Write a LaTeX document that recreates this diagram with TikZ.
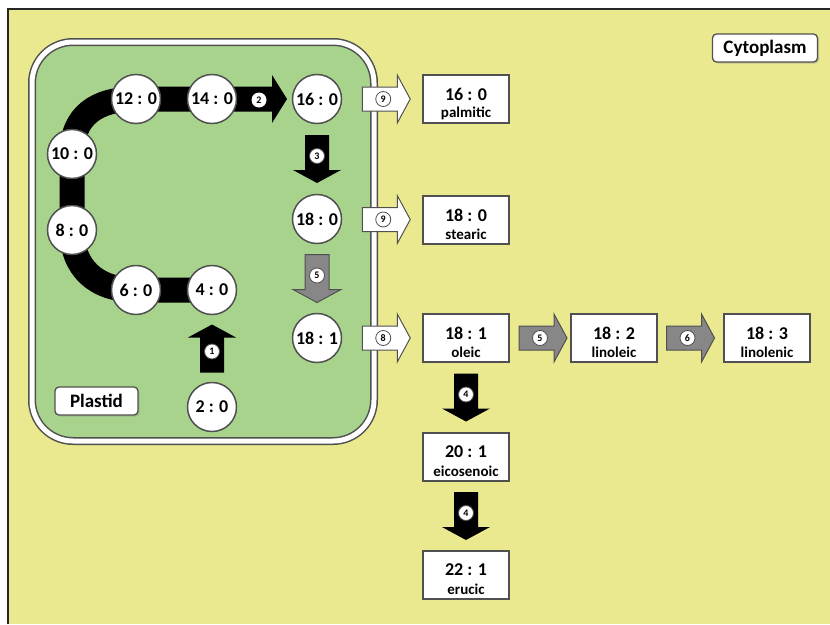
\documentclass[tikz,border=0pt]{standalone}
\usepackage{fontspec}
\setmainfont{Carlito}
\usetikzlibrary{calc,shadows}

\definecolor{cytobg}{RGB}{234,233,144}
\definecolor{plastbg}{RGB}{168,211,140}
\definecolor{rimgray}{RGB}{80,80,80}
\definecolor{stepgray}{RGB}{135,135,135}

\tikzset{
  acid/.style={circle, minimum size=49pt, inner sep=0pt, fill=white,
    draw=rimgray, line width=1.5pt, font=\fontsize{18}{20}\selectfont\bfseries},
  product/.style={rectangle, minimum width=86pt, minimum height=48pt,
    inner sep=0pt, fill=white, draw=rimgray, line width=1.5pt},
  mainname/.style={inner sep=0pt, font=\fontsize{18}{18}\selectfont\bfseries},
  trivname/.style={inner sep=0pt, font=\fontsize{15}{15}\selectfont\bfseries},
  tag/.style={rectangle, rounded corners=4pt, minimum height=28pt,
    inner sep=0pt, fill=white, draw=rimgray, line width=1.3pt,
    drop shadow={shadow xshift=1.5pt, shadow yshift=-1.5pt, opacity=0.35},
    font=\fontsize{19}{20}\selectfont\bfseries},
  stepnum/.style={circle, minimum size=15pt, inner sep=0pt, fill=white,
    draw=rimgray, line width=0.8pt, font=\fontsize{10}{10}\selectfont\bfseries},
  darkstep/.style={fill=black},
  greystep/.style={fill=stepgray, draw=rimgray, line width=1pt},
  exportstep/.style={fill=white, draw=rimgray, line width=1pt},
}

% block arrow centred on #2, turned by #3 degrees, carrying step number #4
\newcommand\stepflow[5]{%
  \begin{scope}[shift={#2}, rotate=#3]
    \path[#1] (-24,-12) -- (11,-12) -- (11,-24) -- (24,0) -- (11,24)
      -- (11,12) -- (-24,12) -- cycle;
    \node[stepnum] (#5) at (-3,0) {#4};
  \end{scope}}

% product box #1 at #2 with shorthand #3 and trivial name #4
\newcommand\productbox[4]{%
  \node[product] (#1) at #2 {};
  \node[mainname] (#1-n) at ($(#1)+(0,-5)$) {#3};
  \node[trivname] (#1-t) at ($(#1)+(0,14)$) {#4};}

\begin{document}
\begin{tikzpicture}[x=1pt,y=-1pt]
\useasboundingbox (0,0) rectangle (830,624);
\fill[white] (0,0) rectangle (830,624);

% cytoplasm
\fill[cytobg] (8,9) rectangle (830,624);
\draw[black!85, line width=1.6pt] (8,624) -- (8,9) -- (830,9);

% plastid with its double envelope
\filldraw[fill=plastbg, draw=rimgray, line width=8pt, rounded corners=41pt]
  (32,42) rectangle (374,441);
\draw[white, line width=5pt, rounded corners=41pt] (32,42) rectangle (374,441);

% positions of the acyl chains
\coordinate (p2)  at (212,407);
\coordinate (p4)  at (212,290);
\coordinate (p6)  at (136,290);
\coordinate (p8)  at (72,230);
\coordinate (p10) at (72,154);
\coordinate (p12) at (136,99);
\coordinate (p14) at (212,99);
\coordinate (p16) at (317,99);
\coordinate (p18) at (317,219);
\coordinate (p181) at (317,338);
\coordinate (h2) at ($(p16)+(-45,0)$);

% elongation cycle
\draw[line width=25pt] (p4) -- (p6) .. controls +(-40,0) and +(0,38) .. (p8)
  -- (p10) .. controls +(0,-38) and +(-40,0) .. (p12) -- (h2);
\fill (h2) ++(0,-24) -- ++(15,24) -- ++(-15,24) -- cycle;
\node[stepnum, draw=none] (s2) at ($(h2)+(-13,1)$) {2};

% acyl chains in the plastid
\node[acid] (c2)  at (p2)  {2 : 0};
\node[acid] (c4)  at (p4)  {4 : 0};
\node[acid] (c6)  at (p6)  {6 : 0};
\node[acid] (c8)  at (p8)  {8 : 0};
\node[acid] (c10) at (p10) {10 : 0};
\node[acid] (c12) at (p12) {12 : 0};
\node[acid] (c14) at (p14) {14 : 0};
\node[acid] (c16) at (p16) {16 : 0};
\node[acid] (c18) at (p18) {18 : 0};
\node[acid] (c181) at (p181) {18 : 1};

% products in the cytoplasm
\productbox{b16}{(466,99)}{16 : 0}{palmitic}
\productbox{b18}{(466,220)}{18 : 0}{stearic}
\productbox{b181}{(466,338)}{18 : 1}{oleic}
\productbox{b182}{(614,338)}{18 : 2}{linoleic}
\productbox{b183}{(767,338)}{18 : 3}{linolenic}
\productbox{b201}{(466,457)}{20 : 1}{eicosenoic}
\productbox{b221}{(466,575)}{22 : 1}{erucic}

% compartment tags
\node[tag, minimum width=83pt]  (tplastid) at (96.5,401) {Plastid};
\node[tag, minimum width=105pt] (tcyto)    at (765,48)  {Cytoplasm};

% steps inside the plastid
\stepflow{darkstep}{($(c2.north)!.5!(c4.south)$)}{90}{1}{s1}
\stepflow{darkstep}{($(c16.south)!.5!(c18.north)$)}{-90}{3}{s3}
\stepflow{greystep}{($(c18.south)!.5!(c181.north)$)}{-90}{5}{s5a}

% export to the cytoplasm
\stepflow{exportstep}{($(c16.east)!.5!(b16.west)+(4,0)$)}{0}{9}{s9a}
\stepflow{exportstep}{($(c18.east)!.5!(b18.west)+(4,0)$)}{0}{9}{s9b}
\stepflow{exportstep}{($(c181.east)!.5!(b181.west)+(4,0)$)}{0}{8}{s8}

% desaturation and elongation in the cytoplasm
\stepflow{greystep}{($(b181.east)!.5!(b182.west)+(3,0)$)}{0}{5}{s5b}
\stepflow{greystep}{($(b182.east)!.5!(b183.west)$)}{0}{6}{s6}
\stepflow{darkstep}{($(b181.south)!.5!(b201.north)$)}{-90}{4}{s4a}
\stepflow{darkstep}{($(b201.south)!.5!(b221.north)$)}{-90}{4}{s4b}
\end{tikzpicture}
\end{document}
